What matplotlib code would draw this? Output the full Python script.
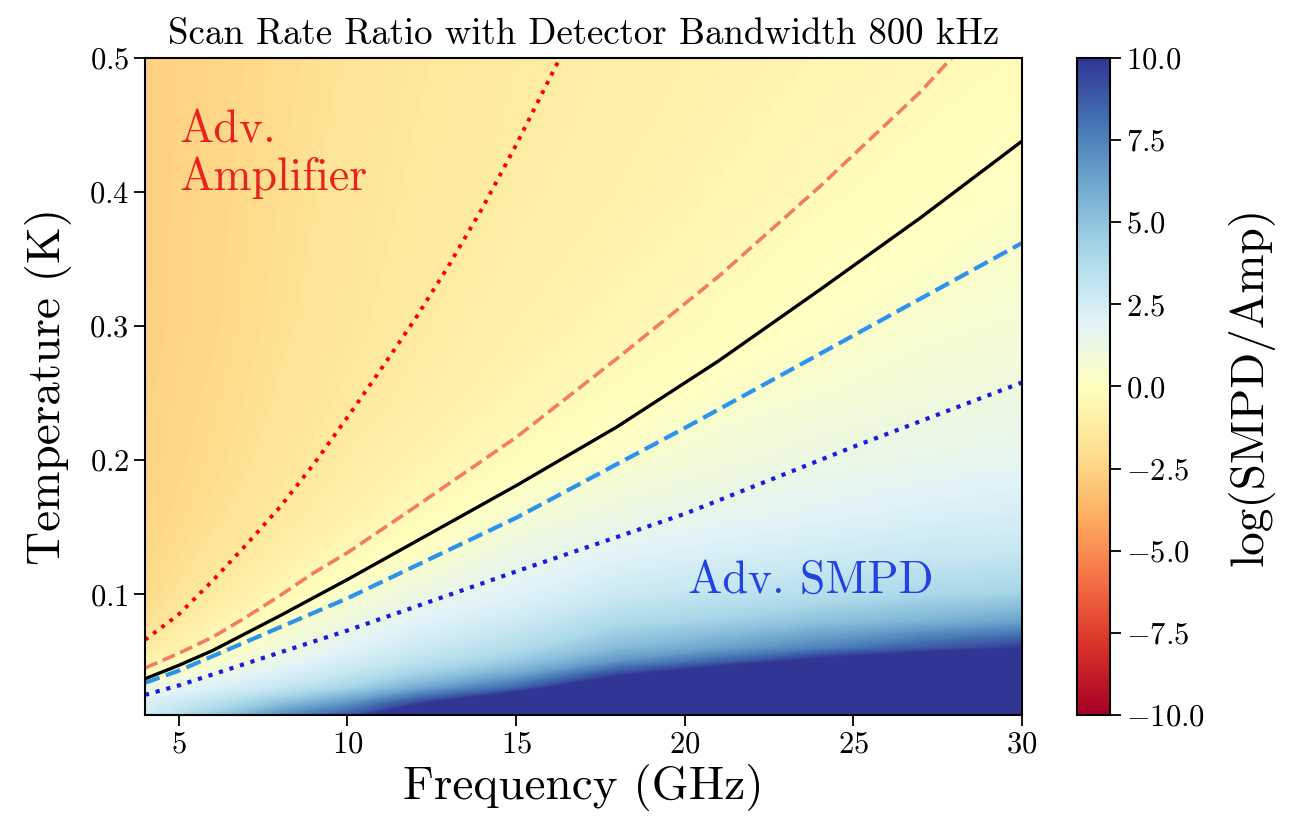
import numpy as np
import matplotlib
matplotlib.use("Agg")
import matplotlib.pyplot as plt
from matplotlib.colors import Normalize
from matplotlib.cm import ScalarMappable

plt.rcParams['font.family'] = 'serif'
plt.rcParams['font.serif'] = ['cmr10']
plt.rcParams['mathtext.fontset'] = 'cm'
plt.rcParams['axes.formatter.use_mathtext'] = True
plt.rcParams['axes.unicode_minus'] = True

# ---------------- data ----------------
freq_grid = [4, 6, 8, 10, 12, 15, 18, 21, 24, 27, 30]            # GHz
temp_grid = [0.01, 0.02, 0.03, 0.04, 0.05, 0.06, 0.08, 0.10,
             0.13, 0.16, 0.20, 0.25, 0.30, 0.40, 0.50]          # K

# log(SMPD/Amp), one row per temperature, one column per frequency
ratio_t010 = [2.6, 4.5, 7.0, 8.8, 12.0, 14.0, 14.0, 14.0, 14.0, 14.0, 14.0]
ratio_t020 = [2.1, 3.2, 4.8, 6.5, 9.0, 13.0, 14.0, 14.0, 14.0, 14.0, 14.0]
ratio_t030 = [1.2, 2.2, 3.0, 4.2, 6.0, 8.5, 13.0, 14.0, 14.0, 14.0, 14.0]
ratio_t040 = [-0.2, 1.2, 2.2, 3.1, 4.3, 6.2, 9.5, 12.0, 14.0, 14.0, 14.0]
ratio_t050 = [-0.8, 0.3, 1.5, 2.4, 3.3, 4.6, 6.8, 8.5, 10.5, 12.0, 14.0]
ratio_t060 = [-1.3, -0.25, 0.9, 1.9, 2.7, 3.7, 5.3, 6.3, 7.5, 8.8, 9.8]
ratio_t080 = [-1.9, -0.8, 0.1, 1.1, 1.9, 2.7, 3.8, 4.3, 5.0, 5.6, 6.3]
ratio_t100 = [-2.2, -1.3, -0.5, 0.4, 1.2, 2.0, 2.8, 3.2, 3.6, 4.0, 4.3]
ratio_t130 = [-2.35, -1.7, -1.05, -0.4, 0.15, 1.3, 1.9, 2.3, 2.6, 2.9, 3.0]
ratio_t160 = [-2.45, -1.95, -1.4, -0.9, -0.4, 0.6, 1.2, 1.6, 1.9, 2.2, 2.4]
ratio_t200 = [-2.5, -2.1, -1.65, -1.2, -0.8, -0.25, 0.4, 0.9, 1.3, 1.5, 1.7]
ratio_t250 = [-2.55, -2.2, -1.8, -1.45, -1.15, -0.65, -0.25, 0.3, 0.6, 0.9, 1.1]
ratio_t300 = [-2.6, -2.3, -1.9, -1.6, -1.3, -0.9, -0.6, -0.25, 0.2, 0.5, 0.7]
ratio_t400 = [-2.6, -2.35, -2.0, -1.7, -1.45, -1.15, -0.9, -0.65, -0.4, -0.15, 0.2]
ratio_t500 = [-2.6, -2.4, -2.1, -1.8, -1.55, -1.25, -1.05, -0.85, -0.65, -0.5, -0.3]

# boundary curves (frequency in GHz, temperature in K)
adv_amp_f = [4, 5, 6, 7, 8, 9, 10, 11, 12, 13, 14, 15, 16, 16.6]
adv_amp_T = [0.066, 0.085, 0.110, 0.137, 0.165, 0.197, 0.232, 0.268,
             0.305, 0.345, 0.388, 0.435, 0.485, 0.515]

amp_f = [4, 5, 6, 7, 8, 9, 10, 12, 15, 18, 21, 24, 27, 28.2]
amp_T = [0.045, 0.056, 0.068, 0.083, 0.099, 0.116, 0.131, 0.165,
         0.217, 0.276, 0.337, 0.404, 0.475, 0.508]

base_f = [4, 5, 6, 8, 10, 12, 15, 18, 21, 24, 27, 30]
base_T = [0.037, 0.047, 0.058, 0.084, 0.111, 0.139, 0.181, 0.225,
          0.274, 0.327, 0.381, 0.438]

smpd_f = [4, 5, 10, 15, 20, 25, 30]
smpd_T = [0.034, 0.043, 0.097, 0.157, 0.224, 0.293, 0.362]

adv_smpd_f = [4, 5, 10, 15, 20, 25, 30]
adv_smpd_T = [0.025, 0.032, 0.073, 0.117, 0.160, 0.210, 0.258]

x_ticks = [5, 10, 15, 20, 25, 30]
y_ticks = [0.1, 0.2, 0.3, 0.4, 0.5]
cbar_ticks = [-10.0, -7.5, -5.0, -2.5, 0.0, 2.5, 5.0, 7.5, 10.0]

# ---------------- figure ----------------
fig = plt.figure(figsize=(12.89, 8.22), dpi=100)
ax = fig.add_axes([0.1125, 0.1302, 0.6804, 0.7993])
cax = fig.add_axes([0.8355, 0.1302, 0.0256, 0.7993])

Z = np.array([ratio_t010, ratio_t020, ratio_t030, ratio_t040, ratio_t050,
              ratio_t060, ratio_t080, ratio_t100, ratio_t130, ratio_t160,
              ratio_t200, ratio_t250, ratio_t300, ratio_t400, ratio_t500])

cmap = plt.get_cmap('RdYlBu')
norm = Normalize(vmin=-10, vmax=10)
ax.contourf(freq_grid, temp_grid, Z, levels=np.linspace(-10, 10, 241),
            cmap=cmap, norm=norm, extend='both', antialiased=False)

ax.plot(adv_amp_f, adv_amp_T, color='red', ls=':', lw=2.8)
ax.plot(amp_f, amp_T, color='#f27d62', ls='--', lw=2.6)
ax.plot(base_f, base_T, color='black', ls='-', lw=2.4)
ax.plot(smpd_f, smpd_T, color='#2a93ec', ls='--', lw=3.0)
ax.plot(adv_smpd_f, adv_smpd_T, color='#1a1ae0', ls=':', lw=3.0)

ax.set_xlim(4, 30)
ax.set_ylim(0.01, 0.5)
ax.set_xticks(x_ticks)
ax.set_yticks(y_ticks)
ax.tick_params(labelsize=22, length=8, width=1.3, direction='out')
for s in ax.spines.values():
    s.set_linewidth(1.5)

ax.text(5.03, 0.4366, 'Adv.', color='#e8231f', fontsize=33)
ax.text(5.03, 0.4015, 'Amplifier', color='#e8231f', fontsize=33)
ax.text(20.1, 0.1015, 'Adv. SMPD', color='#2343e0', fontsize=33)

ax.set_xlabel('Frequency (GHz)', fontsize=34, labelpad=4)
ax.set_ylabel('Temperature (K)', fontsize=34, labelpad=12)
ax.set_title('Scan Rate Ratio with Detector Bandwidth 800 kHz', fontsize=26.5, pad=10)

cb = fig.colorbar(ScalarMappable(norm=norm, cmap=cmap), cax=cax)
cb.set_ticks(cbar_ticks)
cb.ax.tick_params(labelsize=22, length=8, width=1.3)
cb.outline.set_linewidth(1.5)
cb.set_label('log(SMPD/Amp)', fontsize=34, labelpad=16)

fig.savefig('out.png', dpi=100)
